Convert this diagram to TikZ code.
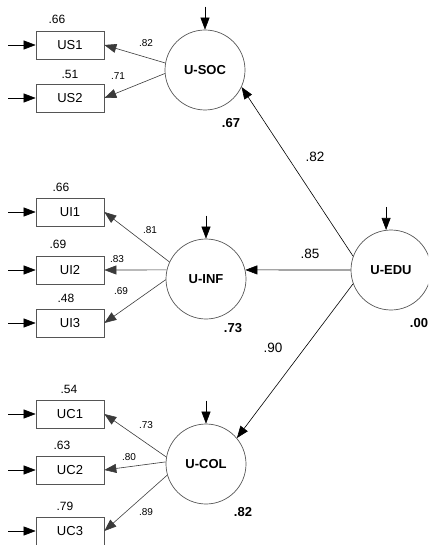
\documentclass[tikz,border=0pt]{standalone}
\usepackage{fontspec}
\setmainfont{Liberation Sans}
\usetikzlibrary{arrows.meta}
\definecolor{bordegris}{HTML}{555555}
\definecolor{lineagris}{HTML}{3A3A3A}

\tikzset{
  caja/.style={draw=bordegris, line width=0.7pt, minimum width=68pt, minimum height=28pt, inner sep=0pt, font=\fontsize{13}{15}\selectfont},
  latente/.style={circle, draw=bordegris, line width=0.7pt, minimum size=80pt, inner sep=0pt, font=\fontsize{13}{15}\selectfont\bfseries},
  flecha/.style={-{Triangle[length=12pt,width=9pt]}, line width=0.6pt},
  carga/.style={flecha, draw=lineagris},
  peso/.style={font=\fontsize{10}{12}\selectfont},
  varz/.style={font=\fontsize{12}{14}\selectfont},
  rcuad/.style={font=\fontsize{13}{15}\selectfont\bfseries},
  coef/.style={font=\fontsize{13.5}{15}\selectfont}
}

\begin{document}
\begin{tikzpicture}[x=1pt, y=-1pt]
  \clip (0,0) rectangle (428,545);
  % Variables latentes
  \node[latente] (soc) at (205,70) {U-SOC};
  \node[latente] (inf) at (206,279) {U-INF};
  \node[latente] (col) at (206,464) {U-COL};
  \node[latente] (edu) at (391,270) {U-EDU};
  % Indicadores con su error
  \foreach \n/\t/\y in {us1/US1/45, us2/US2/98, ui1/UI1/212, ui2/UI2/270, ui3/UI3/323, uc1/UC1/414, uc2/UC2/470, uc3/UC3/531} {
    \node[caja] (\n) at (70,\y) {\t};
    \coordinate (e\n) at (8,\y);
    \draw[flecha] (e\n) -- (\n.west);
  }
  % Perturbaciones de las latentes
  \foreach \n/\a in {soc/90, inf/90, col/90, edu/97} {
    \path (\n.\a) ++(0,-23) coordinate (z\n);
    \draw[flecha] (z\n) -- (\n.\a);
  }
  % Cargas factoriales
  \draw[carga] (soc.170) -- (us1.east);
  \draw[carga] (soc.185) -- (us2.east);
  \draw[carga] (inf.155) -- (ui1.east);
  \draw[carga] (inf.167) -- (ui2.east);
  \draw[carga] (inf.181) -- (ui3.east);
  \draw[carga] (col.170) -- (uc1.east);
  \draw[carga] (col.177) -- (uc2.east);
  \draw[carga] (col.196) -- (uc3.east);
  % Trayectorias estructurales
  \draw[flecha] (edu.160) -- (soc.-25);
  \draw[flecha] (edu.west) -- (inf.13);
  \draw[flecha] (edu.200) -- (col.40);
  % Valores
  \foreach \x/\y/\t [count=\i] in {57/19/.66, 70/74/.51, 61/187/.66, 58/244/.69, 66/298/.48, 69/389/.54, 62/445/.63, 65/506/.79}
    \node[varz] (var\i) at (\x,\y) {\t};
  \foreach \x/\y/\t [count=\i] in {146/43/.82, 118/76/.71, 150/230/.81, 117/259/.83, 121/291/.69, 146/425/.73, 129/457/.80, 146/512/.89}
    \node[peso] (peso\i) at (\x,\y) {\t};
  \foreach \x/\y/\t [count=\i] in {231/123/.67, 233/328/.73, 243/512/.82, 419/323/.00}
    \node[rcuad] (r\i) at (\x,\y) {\t};
  \foreach \x/\y/\t [count=\i] in {315/157/.82, 310/254/.85, 273/348/.90}
    \node[coef] (coef\i) at (\x,\y) {\t};
\end{tikzpicture}
\end{document}
